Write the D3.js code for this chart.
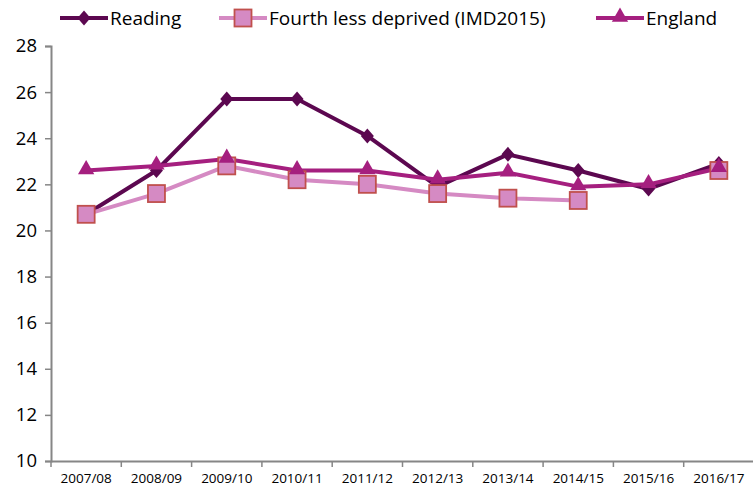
<!DOCTYPE html>
<html>
<head>
<meta charset="utf-8">
<script src="https://cdn.jsdelivr.net/npm/d3@7"></script>
<style>
  body { margin: 0; background: #fff; }
  svg { display: block; font-family: "Open Sans", sans-serif; }
</style>
</head>
<body>
<div class="chart"></div>
<script>
// data
var years = ["2007/08", "2008/09", "2009/10", "2010/11", "2011/12", "2012/13", "2013/14", "2014/15", "2015/16", "2016/17"];
var reading = [20.7, 22.6, 25.7, 25.7, 24.1, 21.9, 23.3, 22.6, 21.8, 22.9];
var fourthLess = [20.7, 21.6, 22.8, 22.2, 22.0, 21.6, 21.4, 21.3, null, 22.6];
var england = [22.6, 22.8, 23.1, 22.6, 22.6, 22.2, 22.5, 21.9, 22.0, 22.7];
var yTicks = [10, 12, 14, 16, 18, 20, 22, 24, 26, 28];

var svgWidth = 753;
var svgHeight = 489;

var margin = { top: 46, right: 0, bottom: 28, left: 51 };
var chartWidth = 703;
var chartHeight = 415;

var svg = d3.select(".chart")
  .append("svg")
  .attr("width", svgWidth)
  .attr("height", svgHeight);

var chartGroup = svg.append("g")
  .attr("transform", `translate(${margin.left}, ${margin.top})`);

// scales
var xScale = d3.scaleBand()
  .domain(years)
  .range([0, chartWidth]);

var yScale = d3.scaleLinear()
  .domain([10, 28])
  .range([chartHeight, 0]);

// axes
var leftAxis = d3.axisLeft(yScale).tickValues(yTicks).tickSize(6).tickPadding(8);
var bottomAxis = d3.axisBottom(xScale).tickSize(0).tickPadding(12);

var yAxisG = chartGroup.append("g").call(leftAxis);
yAxisG.select(".domain").attr("stroke", "#868686").attr("stroke-width", 2);
yAxisG.selectAll(".tick line").attr("stroke", "#868686").attr("stroke-width", 1.5);
yAxisG.selectAll(".tick text").attr("font-size", "18.5px").attr("fill", "#000")
  .attr("font-family", "Open Sans, sans-serif");

var xAxisG = chartGroup.append("g")
  .attr("transform", `translate(0, ${chartHeight})`)
  .call(bottomAxis);
xAxisG.select(".domain").attr("stroke", "#868686").attr("stroke-width", 2);
xAxisG.selectAll(".tick text").attr("font-size", "13.5px").attr("fill", "#000")
  .attr("font-family", "Open Sans, sans-serif");

// category separator ticks
chartGroup.append("g").selectAll("line")
  .data(years)
  .enter()
  .append("line")
  .attr("x1", d => xScale(d))
  .attr("x2", d => xScale(d))
  .attr("y1", chartHeight)
  .attr("y2", chartHeight + 6)
  .attr("stroke", "#868686")
  .attr("stroke-width", 1.5);

var cx = function (i) { return xScale(years[i]) + xScale.bandwidth() / 2; };

var line = d3.line()
  .defined(d => d != null)
  .x((d, i) => cx(i))
  .y(d => yScale(d));

var series = [
  { name: "Reading", values: reading, color: "#5C0850", marker: "diamond" },
  { name: "Fourth less deprived (IMD2015)", values: fourthLess, color: "#D58AC3", marker: "square" },
  { name: "England", values: england, color: "#A51F7F", marker: "triangle" }
];

function drawMarker(g, type, x, y) {
  if (type === "square") {
    g.append("rect")
      .attr("x", x - 8.5).attr("y", y - 8.5)
      .attr("width", 17).attr("height", 17)
      .attr("fill", "#D58AC3")
      .attr("stroke", "#C0504D")
      .attr("stroke-width", 1.8);
  } else if (type === "triangle") {
    g.append("path")
      .attr("d", d3.symbol().type(d3.symbolTriangle).size(115)())
      .attr("transform", `translate(${x}, ${y - 1})`)
      .attr("fill", "#A51F7F");
  } else {
    g.append("path")
      .attr("d", `M0,-7.5L6.5,0L0,7.5L-6.5,0Z`)
      .attr("transform", `translate(${x}, ${y})`)
      .attr("fill", "#5C0850");
  }
}

// lines then markers, series order Reading, Fourth, England
series.forEach(function (s) {
  chartGroup.append("path")
    .datum(s.values)
    .attr("fill", "none")
    .attr("stroke", s.color)
    .attr("stroke-width", 4)
    .attr("stroke-linejoin", "round")
    .attr("d", line);
});

series.forEach(function (s) {
  var mg = chartGroup.append("g");
  s.values.forEach(function (v, i) {
    if (v == null) return;
    drawMarker(mg, s.marker, cx(i), yScale(v));
  });
});

// legend
var legendX = [60, 219, 596];
var legend = svg.append("g");
series.forEach(function (d, k) {
  var x0 = legendX[k];
  legend.append("line")
    .attr("x1", x0).attr("x2", x0 + 48)
    .attr("y1", 18).attr("y2", 18)
    .attr("stroke", d.color)
    .attr("stroke-width", 4);
  drawMarker(legend, d.marker, x0 + 24, 18);
  legend.append("text")
    .attr("x", x0 + 50)
    .attr("y", 18)
    .attr("dy", "0.35em")
    .attr("font-size", "19px")
    .attr("fill", "#000")
    .text(d.name);
});
</script>
</body>
</html>
